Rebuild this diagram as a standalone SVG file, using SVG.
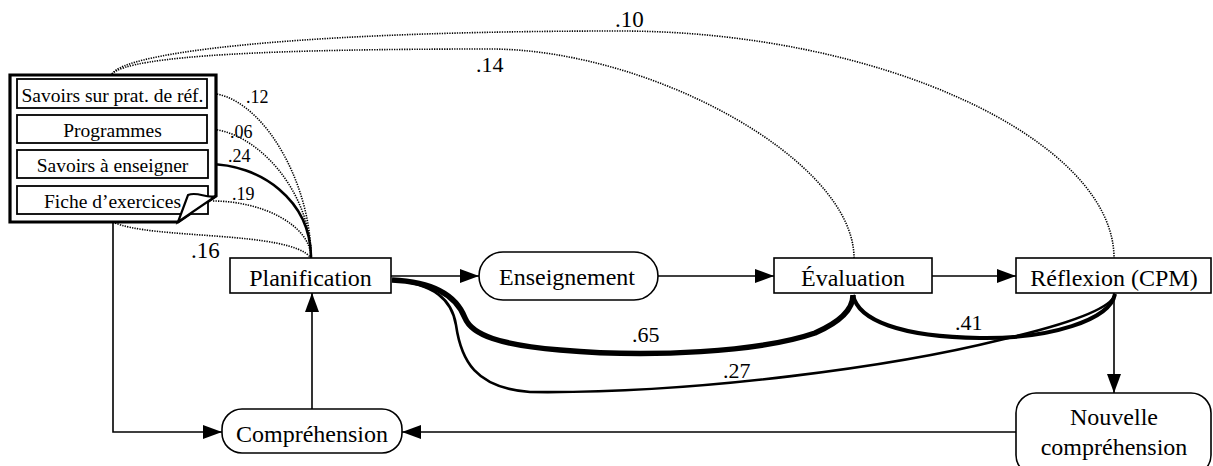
<svg xmlns="http://www.w3.org/2000/svg" width="1213" height="466" viewBox="0 0 1213 466">
<style>
text{font-family:"Liberation Serif","Times New Roman",serif;fill:#000}
.lbl{font-size:24px;text-anchor:middle}
.sm{font-size:19.5px;text-anchor:middle}
.num{font-size:22px}
.nsm{font-size:18px}
.box{fill:#fff;stroke:#000;stroke-width:1.6}
.ibox{fill:#fff;stroke:#000;stroke-width:1.8}
.ln{fill:none;stroke:#000;stroke-width:1.6}
.dot{fill:none;stroke:#000;stroke-width:1.6;stroke-dasharray:1.3 1.2}
.arr{marker-end:url(#ah)}
</style>
<defs>
<marker id="ah" markerUnits="userSpaceOnUse" markerWidth="20" markerHeight="16" refX="19" refY="7" orient="auto">
<path d="M0,0 L19,7 L0,14 Z" fill="#000"/>
</marker>
</defs>
<g id="connectors">
<path class="dot" d="M112,74 C125,52 300,31 620,31 C880,31 1114,140 1114,258"/>
<path class="dot" d="M112,74 C130,55 280,49 490,49 C650,49 854,160 854,258"/>
<path class="dot" d="M207,93 C260,93 311,180 311,258"/>
<path class="dot" d="M207,129 C255,129 311,190 311,258"/>
<path class="ln" style="stroke-width:2.6" d="M208,164 C260,164 311,200 311,258"/>
<path class="dot" d="M213,201 C262,201 311,225 311,258"/>
<path class="dot" d="M113,222 C150,240 290,230 311,258"/>
<path class="ln" style="stroke-width:5.5" d="M392,280 C440,282 458,300 465,318 C472,335 500,345 560,350 C650,358 760,352 815,333 C840,322 853,310 853,295"/>
<path class="ln" style="stroke-width:2.6" d="M392,280 C435,284 452,300 456,325 C461,360 475,388 530,392 C700,394 900,365 1000,340 C1060,326 1112,310 1115,294"/>
<path class="ln" style="stroke-width:4" d="M853,295 C858,320 900,337 980,338 C1050,339 1110,320 1115,294"/>
<path class="ln arr" d="M391,276 H479"/>
<path class="ln arr" d="M658,276 H774"/>
<path class="ln arr" d="M932,276 H1016"/>
<path class="ln arr" d="M1114,293 V393"/>
<path class="ln arr" d="M1016,432 H402"/>
<path class="ln arr" d="M113,222 V432 H222"/>
<path class="ln arr" d="M312,409 V293"/>
<text class="num" x="615" y="27" style="font-size:23px">.10</text>
<text class="num" x="476" y="72">.14</text>
<text class="nsm" x="246" y="103">.12</text>
<text class="nsm" x="230" y="138">.06</text>
<text class="nsm" x="228" y="162">.24</text>
<text class="nsm" x="232" y="200">.19</text>
<text class="num" x="191" y="258" style="font-size:23px">.16</text>
<text class="num" x="632" y="342">.65</text>
<text class="num" x="955" y="330">.41</text>
<text class="num" x="723" y="378">.27</text>
</g>
<g id="document">
<path d="M10,75 H216 V196 L178,222 H10 Z" fill="#fff" stroke="#000" stroke-width="3.2"/>
<g id="savoirs-prat">
<rect class="ibox" x="17" y="79" width="190" height="29"/>
<text class="sm" x="112.5" y="101.5">Savoirs sur prat. de r&#233;f.</text>
</g>
<g id="programmes">
<rect class="ibox" x="17" y="115" width="190" height="28"/>
<text class="sm" x="112.5" y="137">Programmes</text>
</g>
<g id="savoirs-enseigner">
<rect class="ibox" x="17" y="150" width="191" height="28"/>
<text class="sm" x="112.5" y="171.5">Savoirs &#224; enseigner</text>
</g>
<g id="fiche">
<rect class="ibox" x="17" y="186" width="191" height="28"/>
<text class="sm" x="112.5" y="207.5">Fiche d&#8217;exercices</text>
</g>
<path d="M216,196 C206,199 198,191 188,195 L178,222 Z" fill="#fff" stroke="#000" stroke-width="2.2"/>
</g>
<g id="planification">
<rect class="box" x="230" y="258" width="161" height="35"/>
<text class="lbl" x="310.5" y="286">Planification</text>
</g>
<g id="enseignement">
<rect class="box" x="479" y="252" width="179" height="48" rx="24" ry="24"/>
<text class="lbl" x="567" y="285">Enseignement</text>
</g>
<g id="evaluation">
<rect class="box" x="774" y="258" width="158" height="35"/>
<text class="lbl" x="853" y="286">&#201;valuation</text>
</g>
<g id="reflexion">
<rect class="box" x="1016" y="258" width="195" height="35"/>
<text class="lbl" x="1114" y="286">R&#233;flexion (CPM)</text>
</g>
<g id="comprehension">
<rect class="box" x="222" y="409" width="180" height="44" rx="20" ry="20"/>
<text class="lbl" x="312" y="442">Compr&#233;hension</text>
</g>
<g id="nouvelle">
<rect class="box" x="1016" y="393" width="195" height="82" rx="20" ry="20"/>
<text class="lbl" x="1114" y="425">Nouvelle</text>
<text class="lbl" x="1114" y="455">compr&#233;hension</text>
</g>
</svg>
